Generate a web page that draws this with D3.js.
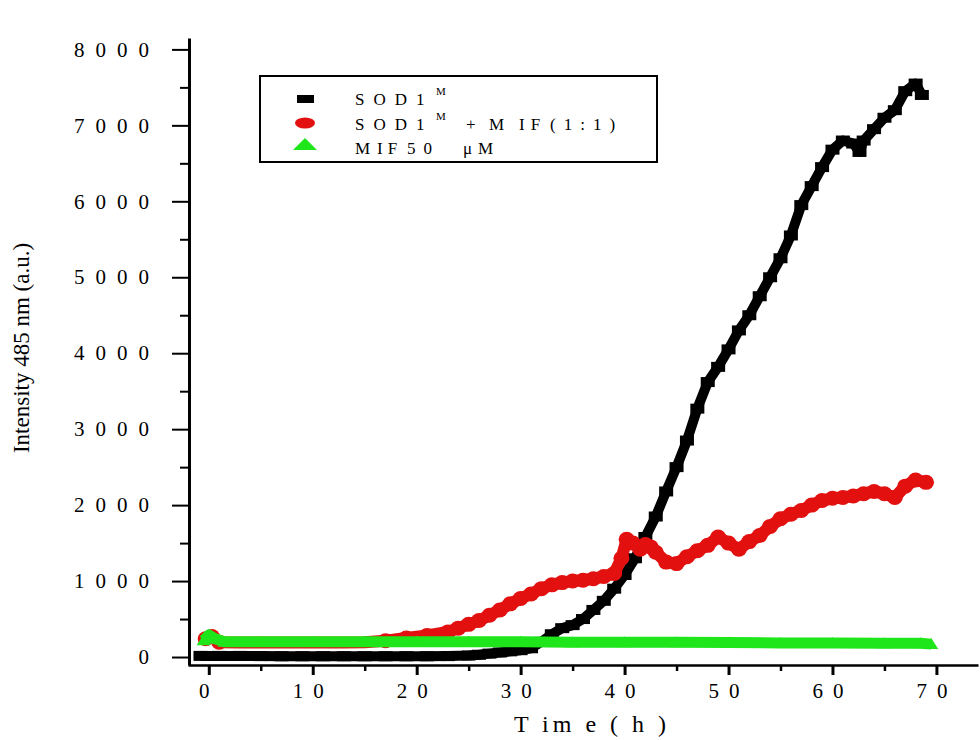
<!DOCTYPE html>
<html>
<head>
<meta charset="utf-8">
<script src="https://cdn.jsdelivr.net/npm/d3@7"></script>
<style>
  body { margin: 0; background: #fff; }
  text { font-family: "Liberation Serif", "Times New Roman", serif; fill: #000; }
</style>
</head>
<body>
<svg id="chart" width="980" height="740"></svg>
<script>
// SOD1 (black squares)
const sodTime = [-0.8, 1, 3, 5, 7, 9, 11, 13, 15, 17, 19, 21, 23, 25, 26, 27, 28, 29, 30, 31, 32, 33, 34, 35, 36, 37, 38, 39, 40, 41, 42, 43, 44, 45, 46, 47, 48, 49, 50, 51, 52, 53, 54, 55, 56, 57, 58, 59, 60, 61, 62, 62.6, 63, 64, 65, 66, 67, 68, 68.6];
const sodValue = [15, 15, 15, 12, 10, 10, 10, 10, 10, 10, 10, 10, 12, 20, 30, 45, 60, 75, 90, 115, 200, 300, 380, 420, 500, 620, 740, 900, 1080, 1300, 1580, 1850, 2180, 2500, 2850, 3270, 3620, 3820, 4050, 4300, 4500, 4750, 5000, 5250, 5550, 5950, 6200, 6450, 6680, 6800, 6760, 6650, 6800, 6950, 7100, 7200, 7450, 7550, 7400];

// SOD1 + MIF 1:1 (red circles)
const mixTime = [-0.3, 0.3, 1, 3, 5, 7, 9, 11, 13, 15, 17, 19, 21, 23, 24, 25, 26, 27, 28, 29, 30, 31, 32, 33, 34, 35, 36, 37, 38, 39, 39.7, 40.2, 40.8, 41.5, 42, 42.5, 43, 44, 45, 46, 47, 48, 49, 50, 51, 52, 53, 54, 55, 56, 57, 58, 59, 60, 61, 62, 63, 64, 65, 66, 67, 68, 69];
const mixValue = [240, 270, 195, 190, 190, 190, 190, 190, 190, 195, 215, 250, 285, 330, 380, 430, 480, 550, 620, 700, 770, 830, 900, 950, 980, 1000, 1010, 1030, 1060, 1100, 1300, 1550, 1500, 1420, 1480, 1450, 1380, 1250, 1230, 1320, 1400, 1470, 1580, 1500, 1420, 1520, 1600, 1720, 1820, 1880, 1930, 2000, 2060, 2090, 2100, 2120, 2150, 2180, 2150, 2100, 2250, 2330, 2300];

// MIF 50 uM (green triangles)
const mifTime = [-0.5, 0, 0.6, 1.5, 5, 10, 15, 20, 25, 30, 35, 40, 45, 50, 55, 60, 65, 68.5, 69.5];
const mifValue = [220, 290, 240, 200, 200, 200, 200, 200, 200, 200, 195, 195, 195, 190, 185, 185, 180, 180, 170];

const xTicks = [0, 10, 20, 30, 40, 50, 60, 70];
const xMinorTicks = [5, 15, 25, 35, 45, 55, 65];
const yTicks = [0, 1000, 2000, 3000, 4000, 5000, 6000, 7000, 8000];
const yMinorTicks = [500, 1500, 2500, 3500, 4500, 5500, 6500, 7500];

const xTitle = "T im e ( h )";
const yTitle = "Intensity 485 nm (a.u.)";

const svg = d3.select("#chart");

const x = d3.scaleLinear().domain([-2, 74]).range([188, 978]);
const y = d3.scaleLinear().domain([-105, 8150]).range([665, 38]);

const black = "#000000", red = "#e2100f", green = "#1ee61a";

const zip = (ts, vs) => ts.map((t, i) => ({t: t, v: vs[i]}));
const series = [
    {name: "sod", data: zip(sodTime, sodValue), color: black, width: 10},
    {name: "mix", data: zip(mixTime, mixValue), color: red, width: 12},
    {name: "mif", data: zip(mifTime, mifValue), color: green, width: 11}
];

const line = d3.line().x(d => x(d.t)).y(d => y(d.v));

const plot = svg.append("g");

series.forEach(s => {
    const g = plot.append("g").attr("class", "series-" + s.name);
    g.append("path")
        .attr("d", line(s.data))
        .attr("fill", "none")
        .attr("stroke", s.color)
        .attr("stroke-width", s.width)
        .attr("stroke-linejoin", "round");

    const pts = g.selectAll(".pt").data(s.data).enter();
    if (s.name === "sod") {
        pts.append("rect")
            .attr("x", d => x(d.t) - 7)
            .attr("y", d => y(d.v) - 5)
            .attr("width", 14)
            .attr("height", 10)
            .attr("fill", s.color);
    } else if (s.name === "mix") {
        pts.append("ellipse")
            .attr("cx", d => x(d.t))
            .attr("cy", d => y(d.v))
            .attr("rx", 8)
            .attr("ry", 7.5)
            .attr("fill", s.color)
            .attr("opacity", d => d.t < 16 && d.t > 1 ? 0 : 1);
    } else {
        pts.append("path")
            .attr("transform", d => `translate(${x(d.t)},${y(d.v)})`)
            .attr("d", "M-7,5L7,5L0,-6Z")
            .attr("fill", s.color);
    }
});

/* axes */
const xAxis = svg.append("g")
    .attr("transform", "translate(0,665)")
    .call(d3.axisBottom(x).tickValues(xTicks).tickSize(10).tickSizeOuter(0).tickPadding(8).tickFormat(d3.format("d")));
xAxis.selectAll(".tick line").attr("stroke-width", 3);
xAxis.select(".domain").attr("stroke-width", 2.5);
xAxis.selectAll(".tick text")
    .style("font-size", "21px")
    .style("letter-spacing", "10px")
    .style("font-family", "'Liberation Serif', serif");

svg.append("g")
    .attr("transform", "translate(0,665)")
    .call(d3.axisBottom(x).tickValues(xMinorTicks).tickSize(6).tickFormat(""))
    .call(g => g.select(".domain").remove())
    .selectAll(".tick line").attr("stroke-width", 2.5);

const yAxis = svg.append("g")
    .attr("transform", "translate(189,0)")
    .call(d3.axisLeft(y).tickValues(yTicks).tickSize(17).tickSizeOuter(0).tickPadding(12).tickFormat(d3.format("d")));
yAxis.selectAll(".tick line").attr("stroke-width", 2);
yAxis.select(".domain").attr("stroke-width", 3);
yAxis.selectAll(".tick text")
    .style("font-size", "21px")
    .style("letter-spacing", "11px")
    .style("font-family", "'Liberation Serif', serif");

svg.append("g")
    .attr("transform", "translate(189,0)")
    .call(d3.axisLeft(y).tickValues(yMinorTicks).tickSize(9).tickFormat(""))
    .call(g => g.select(".domain").remove())
    .selectAll(".tick line").attr("stroke-width", 2);

/* axis titles */
svg.append("text")
    .attr("x", 592)
    .attr("y", 732)
    .attr("text-anchor", "middle")
    .attr("xml:space", "preserve")
    .style("font-size", "24px")
    .style("letter-spacing", "4px")
    .text(xTitle);

svg.append("text")
    .attr("transform", "translate(29,348) rotate(-90)")
    .attr("text-anchor", "middle")
    .style("font-size", "23px")
    .text(yTitle);

/* legend */
const legend = svg.append("g");
legend.append("rect")
    .attr("x", 260).attr("y", 76)
    .attr("width", 397).attr("height", 86)
    .attr("fill", "#fff")
    .attr("stroke", "#000")
    .attr("stroke-width", 2);

legend.append("rect").attr("x", 297).attr("y", 95).attr("width", 17).attr("height", 8).attr("fill", black);
legend.append("ellipse").attr("cx", 305).attr("cy", 123).attr("rx", 10).attr("ry", 5.5).attr("fill", red);
legend.append("path").attr("d", "M293,150L317,150L305,138Z").attr("fill", green);

// [text, x, baseline, size, spacing]
const legendTokens = [
    ["SOD1", 355, 105, 17, 9], ["M", 436, 95, 11, 0],
    ["SOD1", 355, 130, 17, 9], ["M", 436, 120, 11, 0],
    ["+", 466, 130, 17, 0], ["M", 489, 130, 17, 0], ["IF", 519, 130, 17, 6], ["(1:1)", 550, 130, 17, 8],
    ["M", 355, 154, 17, 0], ["IF", 377, 154, 17, 5], ["50", 407, 154, 17, 8], ["μM", 463, 154, 17, 6]
];

legend.selectAll(".lt").data(legendTokens).enter()
    .append("text")
    .attr("x", d => d[1])
    .attr("y", d => d[2])
    .style("font-size", d => d[3] + "px")
    .style("letter-spacing", d => d[4] + "px")
    .text(d => d[0]);
</script>
</body>
</html>
